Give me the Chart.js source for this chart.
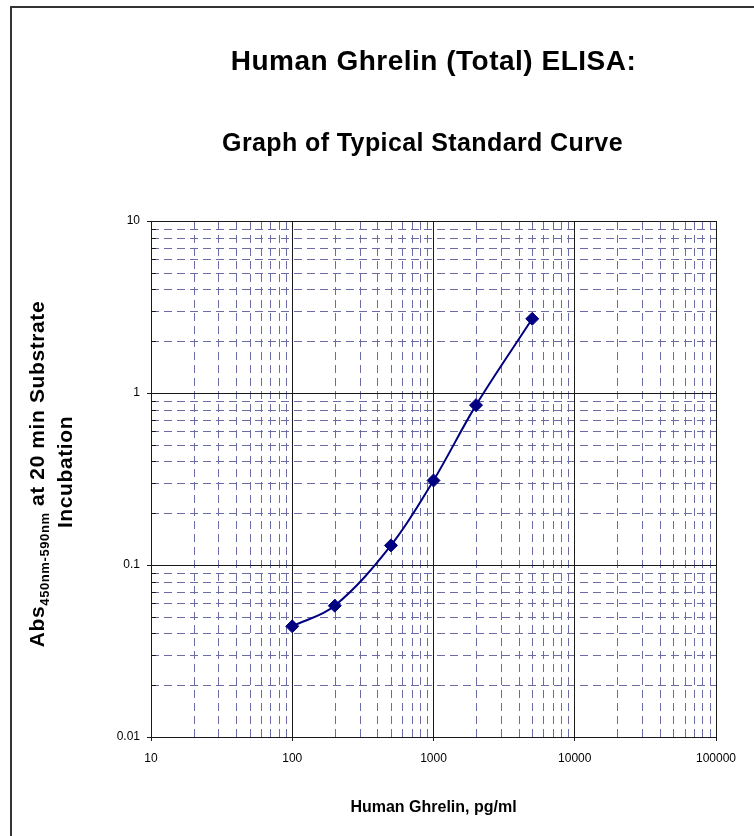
<!DOCTYPE html>
<html>
<head>
<meta charset="utf-8">
<title>Human Ghrelin (Total) ELISA</title>
<script src="https://cdn.jsdelivr.net/npm/chart.js@4/dist/chart.umd.min.js"></script>
<style>
  html, body { margin: 0; padding: 0; background: #fff; }
  #chart { display: block; }
</style>
</head>
<body>
<canvas id="chart" width="754" height="836"></canvas>
<script>
// standard curve readings (pg/ml vs absorbance)
const concentrations = [100, 200, 500, 1000, 2000, 5000];
const absorbance = [0.044, 0.058, 0.13, 0.31, 0.85, 2.7];

// decade ticks on both log axes
const xTickValues = [10, 100, 1000, 10000, 100000];
const yTickValues = [0.01, 0.1, 1, 10];

const titleText = "Human Ghrelin (Total) ELISA:";
const subtitleText = "Graph of Typical Standard Curve";
const xAxisTitle = "Human Ghrelin, pg/ml";
const yAxisTitleParts = ["Abs", "450nm-590nm", " at 20 min Substrate"];
const yAxisTitleLine2 = "Incubation";

const FONT = "'Liberation Sans', Arial, sans-serif";
const NAVY = "#000080";
const MINOR_GRID = "#6b6ba6";
const MAJOR_GRID = "#1a1a1a";

// 2..9 multiples inside each decade
function minorValues(majors) {
  const out = [];
  for (let i = 0; i < majors.length - 1; i++) {
    for (let k = 2; k <= 9; k++) out.push(+(majors[i] * k).toPrecision(6));
  }
  return out;
}

const decorations = {
  id: "decorations",
  beforeDraw(chart) {
    const { ctx, chartArea: a, scales: { x, y } } = chart;
    ctx.save();
    ctx.strokeStyle = MINOR_GRID;
    ctx.lineWidth = 1;
    ctx.setLineDash([8, 5]);
    for (const v of minorValues(xTickValues)) {
      const px = Math.round(x.getPixelForValue(v)) + 0.5;
      ctx.beginPath();
      ctx.moveTo(px, a.bottom);
      ctx.lineTo(px, a.top);
      ctx.stroke();
    }
    for (const v of minorValues(yTickValues)) {
      const py = Math.round(y.getPixelForValue(v)) + 0.5;
      ctx.beginPath();
      ctx.moveTo(a.left, py);
      ctx.lineTo(a.right, py);
      ctx.stroke();
    }
    ctx.restore();
  },
  afterDraw(chart) {
    const { ctx, chartArea: a, scales: { y } } = chart;
    const cx = (a.left + a.right) / 2;
    ctx.save();

    // small inner ticks on the left axis
    ctx.strokeStyle = MAJOR_GRID;
    ctx.lineWidth = 1;
    for (const v of minorValues(yTickValues)) {
      const py = Math.round(y.getPixelForValue(v)) + 0.5;
      ctx.beginPath();
      ctx.moveTo(a.left, py);
      ctx.lineTo(a.left + 5, py);
      ctx.stroke();
    }

    // outer frame (cut off at right and bottom like the source image)
    ctx.fillStyle = "#333";
    ctx.fillRect(10, 6, 2, chart.height);
    ctx.fillRect(10, 6, chart.width, 2);

    ctx.fillStyle = "#000";
    ctx.textAlign = "center";
    ctx.textBaseline = "middle";
    ctx.letterSpacing = "0.5px";
    ctx.font = "bold 28px " + FONT;
    ctx.fillText(titleText, cx, 62);
    ctx.letterSpacing = "0.4px";
    ctx.font = "bold 25px " + FONT;
    ctx.fillText(subtitleText, cx - 11, 144);
    ctx.letterSpacing = "0px";
    ctx.font = "bold 16px " + FONT;
    ctx.fillText(xAxisTitle, cx, 808);

    // rotated y title with subscript
    ctx.letterSpacing = "0.6px";
    ctx.save();
    ctx.translate(38, 474);
    ctx.rotate(-Math.PI / 2);
    ctx.textAlign = "left";
    ctx.font = "bold 21px " + FONT;
    const w1 = ctx.measureText(yAxisTitleParts[0]).width;
    const w3 = ctx.measureText(yAxisTitleParts[2]).width;
    ctx.font = "bold 13px " + FONT;
    const w2 = ctx.measureText(yAxisTitleParts[1]).width;
    const tx = -(w1 + w2 + w3) / 2;
    ctx.font = "bold 21px " + FONT;
    ctx.fillText(yAxisTitleParts[0], tx, 0);
    ctx.font = "bold 13px " + FONT;
    ctx.fillText(yAxisTitleParts[1], tx + w1, 7);
    ctx.font = "bold 21px " + FONT;
    ctx.fillText(yAxisTitleParts[2], tx + w1 + w2, 0);
    ctx.restore();

    ctx.save();
    ctx.translate(66, 472);
    ctx.rotate(-Math.PI / 2);
    ctx.font = "bold 21px " + FONT;
    ctx.fillText(yAxisTitleLine2, 0, 0);
    ctx.restore();

    ctx.restore();
  }
};

const tickFont = { family: FONT, size: 12 };

new Chart(document.getElementById("chart"), {
  type: "scatter",
  data: {
    datasets: [{
      data: concentrations.map((c, i) => ({ x: c, y: absorbance[i] })),
      showLine: true,
      borderColor: NAVY,
      backgroundColor: NAVY,
      borderWidth: 2,
      tension: 0.35,
      pointStyle: "rectRot",
      pointRadius: 6.5,
      pointHoverRadius: 6.5,
      pointBorderWidth: 1
    }]
  },
  options: {
    responsive: false,
    animation: false,
    events: [],
    layout: { padding: { left: 91, top: 221, right: 38, bottom: 49 } },
    plugins: {
      legend: { display: false },
      tooltip: { enabled: false }
    },
    scales: {
      x: {
        type: "logarithmic",
        min: 10,
        max: 100000,
        afterBuildTicks: (scale) => { scale.ticks = xTickValues.map(v => ({ value: v, major: true })); },
        afterFit: (scale) => { scale.height = 50; },
        ticks: { font: tickFont, color: "#000", padding: 10, maxRotation: 0, callback: (v) => String(v) },
        grid: { color: MAJOR_GRID, lineWidth: 1, tickLength: 4, tickColor: MAJOR_GRID },
        border: { color: MAJOR_GRID, width: 1 }
      },
      y: {
        type: "logarithmic",
        min: 0.01,
        max: 10,
        afterBuildTicks: (scale) => { scale.ticks = yTickValues.map(v => ({ value: v, major: true })); },
        afterFit: (scale) => { scale.width = 60; },
        ticks: { font: tickFont, color: "#000", padding: 7, callback: (v) => String(v) },
        grid: { color: MAJOR_GRID, lineWidth: 1, tickLength: 4, tickColor: MAJOR_GRID },
        border: { color: MAJOR_GRID, width: 1 }
      }
    }
  },
  plugins: [decorations]
});
</script>
</body>
</html>
